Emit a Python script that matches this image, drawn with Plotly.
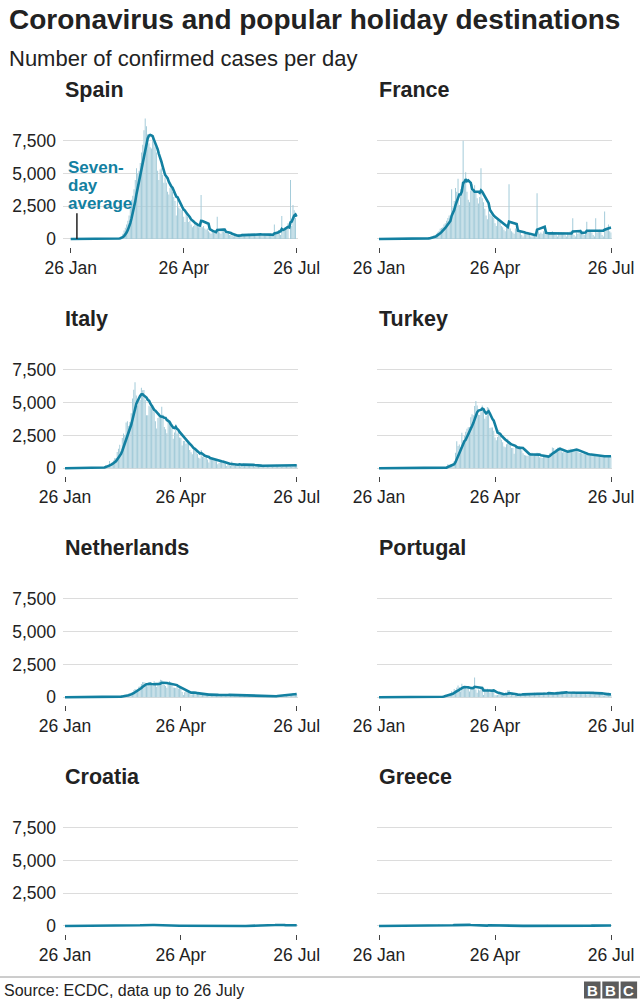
import pandas as pd
import plotly.graph_objects as go

# ---------------- data (daily confirmed cases, 26 Jan - 26 Jul 2020) ----------------
dates = pd.date_range("2020-01-26", "2020-07-26", freq="D")

countries = ["Spain", "France", "Italy", "Turkey", "Netherlands", "Portugal", "Croatia", "Greece"]

spain = [
    0, 0, 0, 0, 0,  0, 1, 0, 0, 0,  0, 0, 0, 0, 1,  0, 0, 0, 0, 0,  0, 0, 0, 0, 0,  0, 0, 0, 0, 0,  1, 4, 5, 10, 17,
    15, 40, 50, 60, 80, 150, 200, 400, 650, 850, 1100, 1400, 1800, 2300, 3000, 3300, 3800, 4500, 5400, 5000,
    5200, 5800, 6600, 7200, 8300, 9200, 8600, 8000, 7300, 7000, 6900,
    7900, 7400, 7000, 6600, 5200, 4500, 5300, 5400, 4900, 4300, 4700, 4300, 3600, 3400, 3900, 3900, 3600, 3200, 2900, 1800,
    3000, 2400, 2300, 2200, 2300, 1700, 1300, 1900, 1700, 1300,
    1400, 1100, 900, 1000, 1300, 1100, 1000, 900, 1000, 3350, 900, 1000, 800, 700, 800, 600, 500, 400, 600, 500,
    600, 500, 1700, 600, 500, 400, 600, 700, 500, 600, 400,
    400, 300, 350, 250, 200, 250, 300, 250, 200, 300, 350, 400, 300, 250, 300, 350, 400, 300, 350, 400,
    350, 300, 400, 350, 300, 400, 350, 300, 350, 400,
    350, 300, 400, 300, 250, 200, 450, 1100, 400, 500, 600, 700, 300, 1750, 600, 700, 900, 1000, 1200, 0,
    4500, 1000, 2600, 2200, 1600, 0,
]

france = [
    0, 0, 0, 0, 0,  0, 0, 1, 0, 0,  0, 0, 0, 5, 0,  0, 0, 0, 0, 0,  1, 0, 0, 0, 0,  0, 0, 0, 0, 0,  2, 4, 20, 19, 43,
    30, 30, 60, 50, 90, 140, 180, 200, 270, 290, 400, 500, 600, 780, 840, 900, 1100, 1200, 1400, 1600,
    1800, 1600, 3800, 2400, 2900, 3900, 3600, 4600, 2600, 3800, 4000,
    7500, 4300, 5100, 3600, 3000, 2800, 3700, 4200, 3800, 4100, 3600, 3100, 2700, 3200, 5400, 3100, 2800, 2300, 1800, 1500,
    2200, 1900, 1800, 1700, 1600, 1200, 1000, 1600, 1500, 1300,
    1000, 900, 700, 600, 900, 1000, 4170, 800, 600, 500, 400, 800, 700, 600, 700, 600, 300, 200, 500, 500,
    400, 500, 300, 200, 200, 300, 300, 200, 3500, 600, 400,
    500, 400, 600, 500, 400, 300, 300, 500, 400, 600, 400, 500, 300, 200, 500, 400, 500, 400, 500, 300,
    200, 500, 400, 600, 400, 1580, 300, 200, 500, 400,
    600, 700, 600, 500, 300, 400, 1320, 600, 700, 600, 500, 300, 200, 1580, 500, 600, 700, 600, 300, 200,
    2090, 800, 900, 1100, 600, 500,
]

italy = [
    0, 0, 0, 0, 0,  2, 0, 0, 0, 0,  0, 1, 0, 0, 0,  0, 0, 0, 0, 0,  0, 0, 0, 0, 0,  0, 17, 62, 74, 74,  93, 78, 250, 238, 240,
    566, 342, 466, 587, 769, 778, 1247, 1492, 1797, 977, 2313, 2651, 2547, 3497, 3590, 3233, 3526, 4207, 5322, 5986,
    6557, 5560, 4789, 5249, 5210, 6153, 5959, 5974, 5217, 4050, 4053,
    4782, 4668, 4585, 4805, 4316, 3599, 3039, 3836, 4204, 3951, 4694, 4092, 3153, 2972, 2667, 3786, 3493, 3491, 3047, 2256,
    2729, 3370, 2646, 3021, 2357, 2324, 1739, 2091, 2086, 1872,
    1965, 1900, 1389, 1221, 1075, 1444, 1401, 1327, 1083, 802, 744, 1402, 888, 992, 789, 875, 675, 451, 813, 665,
    642, 652, 669, 531, 300, 397, 584, 593, 516, 416, 355,
    178, 318, 321, 177, 518, 270, 197, 280, 283, 202, 379, 163, 346, 338, 301, 210, 329, 333, 251, 262,
    224, 218, 122, 190, 296, 259, 175, 174, 126, 142,
    187, 201, 223, 235, 192, 208, 138, 193, 229, 276, 188, 234, 169, 114, 163, 230, 233, 249, 219, 218,
    190, 129, 282, 306, 252, 275,
]

turkey = [
    0, 0, 0, 0, 0,  0, 0, 0, 0, 0,  0, 0, 0, 0, 0,  0, 0, 0, 0, 0,  0, 0, 0, 0, 0,  0, 0, 0, 0, 0,  0, 0, 0, 0, 0,
    0, 0, 0, 0, 0, 0, 0, 0, 0, 0, 1, 0, 4, 1, 12, 29, 51, 93, 168, 311,
    277, 289, 293, 343, 561, 1196, 2069, 1704, 1815, 1610, 2704,
    2148, 2456, 2786, 3013, 3135, 3148, 3892, 4117, 4056, 4747, 5138, 4789, 4093, 4062, 4281, 4801, 4353, 3783, 3977, 4674,
    4611, 3083, 3116, 3122, 2861, 2357, 2131, 2392, 2936, 2615,
    2188, 1983, 1670, 1614, 1832, 2253, 1977, 1848, 1546, 1542, 1114, 1704, 1641, 1635, 1708, 1610, 1368, 1158, 1022, 972,
    961, 952, 1186, 1141, 1186, 948, 987, 1035, 1182, 1141, 839,
    827, 786, 867, 988, 930, 878, 989, 1141, 1195, 1592, 1540, 1267, 1459, 1562, 1592, 1429, 1304, 1214, 1248, 1214,
    1212, 1293, 1458, 1492, 1463, 1458, 1396, 1374, 1356, 1293,
    1192, 1172, 1148, 1086, 1083, 1053, 1041, 1114, 1001, 1024, 1016, 1008, 1012, 990, 933, 926, 918, 912, 929, 918,
    913, 937, 917, 927, 940, 924,
]

netherlands = [
    0, 0, 0, 0, 0,  0, 0, 0, 0, 0,  0, 0, 0, 0, 0,  0, 0, 0, 0, 0,  0, 0, 0, 0, 0,  0, 0, 0, 0, 0,  0, 0, 1, 1, 5,
    5, 8, 6, 14, 44, 46, 60, 77, 56, 61, 121, 111, 190, 155, 176, 278, 292, 346, 409, 534,
    637, 573, 545, 811, 852, 1019, 1172, 1159, 1104, 884, 845,
    1019, 1083, 1026, 904, 1224, 952, 777, 969, 1213, 1335, 1316, 1174, 964, 868, 734, 1061, 1235, 1140, 1066, 750,
    729, 708, 887, 655, 814, 710, 400, 171, 386, 514,
    475, 445, 335, 199, 232, 445, 455, 319, 246, 218, 196, 162, 196, 232, 225, 243, 232, 149, 161, 228,
    186, 178, 226, 199, 144, 103, 168, 185, 212, 178, 145,
    168, 184, 202, 156, 155, 190, 155, 89, 110, 187, 184, 162, 196, 170, 141, 91, 114, 123, 125, 132,
    105, 66, 94, 84, 107, 112, 67, 52, 92, 62,
    51, 63, 89, 71, 65, 62, 69, 74, 119, 132, 137, 121, 109, 98, 149, 213, 185, 193, 172, 201,
    200, 255, 311, 326, 242, 222,
]

portugal = [
    0, 0, 0, 0, 0,  0, 0, 0, 0, 0,  0, 0, 0, 0, 0,  0, 0, 0, 0, 0,  0, 0, 0, 0, 0,  0, 0, 0, 0, 0,  0, 0, 0, 0, 0,
    0, 2, 2, 5, 4, 8, 8, 9, 9, 11, 18, 19, 34, 57, 76, 86, 117, 194, 143, 235,
    260, 320, 460, 302, 633, 549, 724, 902, 792, 446, 1035,
    808, 783, 852, 638, 754, 452, 712, 699, 815, 1516, 598, 349, 598, 514, 643, 750, 181, 663, 521, 657,
    516, 371, 603, 444, 595, 163, 163, 183, 305, 295,
    181, 330, 178, 242, 181, 533, 553, 138, 228, 226, 98, 234, 187, 264, 288, 173, 227, 175, 252, 219,
    257, 271, 288, 138, 165, 163, 350, 304, 350, 200, 195,
    294, 200, 366, 377, 331, 301, 346, 192, 295, 282, 288, 294, 421, 418, 300, 375, 440, 417, 408, 323,
    365, 259, 311, 367, 345, 451, 457, 255, 266, 313,
    328, 403, 374, 413, 328, 313, 229, 375, 402, 339, 418, 443, 232, 402, 319, 304, 256, 339, 252, 135,
    157, 230, 312, 286, 223, 181,
]

croatia = [
    0, 0, 0, 0, 0,  0, 0, 0, 0, 0,  0, 0, 0, 0, 0,  0, 0, 0, 0, 0,  0, 0, 0, 0, 0,  0, 0, 0, 0, 0,  1, 2, 0, 2, 2,
    0, 2, 2, 0, 1, 0, 1, 1, 0, 2, 3, 12, 5, 10, 10, 12, 13, 16, 24, 33,
    78, 48, 52, 72, 76, 62, 91, 71, 67, 77, 96,
    96, 79, 68, 62, 83, 76, 46, 60, 46, 52, 27, 60, 58, 21, 36, 44, 26, 37, 22, 24,
    27, 27, 20, 24, 20, 12, 16, 10, 30, 24,
    19, 15, 11, 16, 6, 7, 10, 4, 6, 6, 4, 8, 3, 3, 7, 2, 6, 0, 1, 5,
    0, 0, 0, 1, 2, 0, 1, 0, 1, 0, 1,
    0, 0, 1, 1, 0, 0, 1, 0, 0, 1, 0, 1, 1, 0, 2, 3, 4, 10, 15, 26,
    35, 30, 44, 38, 67, 75, 88, 96, 52, 30,
    31, 65, 75, 91, 56, 53, 82, 52, 96, 116, 140, 52, 67, 65, 45, 65, 43, 56, 98, 50,
    39, 44, 61, 63, 83, 60,
]

greece = [
    0, 0, 0, 0, 0,  0, 0, 0, 0, 0,  0, 0, 0, 0, 0,  0, 0, 0, 0, 0,  0, 0, 0, 0, 0,  0, 0, 0, 0, 0,  0, 1, 2, 1, 0,
    0, 0, 0, 2, 0, 22, 14, 32, 8, 6, 0, 32, 127, 38, 10, 97, 14, 25, 31, 46,
    84, 94, 71, 48, 78, 71, 56, 95, 71, 60, 99,
    103, 109, 61, 100, 46, 62, 41, 60, 44, 40, 20, 48, 25, 19, 33, 15, 40, 46, 29, 46,
    156, 11, 18, 10, 17, 17, 15, 14, 27, 17,
    20, 10, 10, 11, 18, 7, 7, 6, 16, 1, 0, 7, 7, 13, 7, 11, 18, 3, 0, 3,
    2, 8, 18, 18, 2, 5, 2, 4, 0, 0, 3,
    17, 1, 6, 57, 12, 97, 14, 3, 8, 7, 8, 9, 9, 8, 2, 12, 15, 17, 18, 7,
    6, 19, 10, 4, 26, 12, 15, 19, 13, 6,
    14, 18, 8, 16, 10, 26, 12, 25, 25, 42, 36, 20, 26, 18, 41, 19, 42, 21, 29, 31,
    31, 28, 23, 28, 51, 47,
]

series = [spain, france, italy, turkey, netherlands, portugal, croatia, greece]
lens = {n: len(s) for n, s in zip(countries, series)}
assert all(v == len(dates) for v in lens.values()), lens

x_tick_dates = ["2020-01-26", "2020-04-26", "2020-07-26"]
x_tick_labels = ["26 Jan", "26 Apr", "26 Jul"]
y_tick_values = [0, 2500, 5000, 7500]
y_tick_labels = ["0", "2,500", "5,000", "7,500"]

# ---------------- styling / layout ----------------
W, H = 640, 1000
FONT = "Liberation Sans, Arial, Helvetica, sans-serif"
BAR = "#a3cbd9"
LINE = "#1380A1"
GRID = "#dcdcdc"
TXT = "#222222"

row_zero_px = [239.0, 468.3, 697.3, 926.0]
px_per_case = 98.3 / 7500.0
Y_MIN, Y_MAX = -590, 9500

# column geometry: (domain left px, domain right px, first-date px, last-date px)
col_geom = [(63.0, 297.7, 65.0, 296.7), (377.0, 611.7, 379.0, 611.0)]
spain_geom = (63.0, 297.7, 70.7, 296.7)

fig = go.Figure()
layout_axes = {}
ndays = (dates[-1] - dates[0]).days

for i, (name, vals) in enumerate(zip(countries, series)):
    r, c = divmod(i, 2)
    k = "" if i == 0 else str(i + 1)
    g = spain_geom if name == "Spain" else col_geom[c]
    dl, dr, p0, p1 = g
    ppd = (p1 - p0) / ndays
    x_start = dates[0] - pd.Timedelta(days=(p0 - dl) / ppd)
    x_end = dates[-1] + pd.Timedelta(days=(dr - p1) / ppd)

    z = row_zero_px[r]
    bottom_px = z - Y_MIN * px_per_case
    top_px = z - Y_MAX * px_per_case

    avg = pd.Series(vals, dtype=float).rolling(7, min_periods=1).mean()

    fig.add_trace(go.Bar(x=dates, y=vals, marker=dict(color=BAR, line=dict(width=0)),
                         xaxis="x" + k, yaxis="y" + k, hoverinfo="skip"))
    fig.add_trace(go.Scatter(x=dates, y=avg, mode="lines",
                             line=dict(color=LINE, width=2.6, shape="linear"),
                             xaxis="x" + k, yaxis="y" + k, hoverinfo="skip"))

    layout_axes["xaxis" + k] = dict(
        domain=[dl / W, dr / W], anchor="y" + k, type="date", automargin=False,
        range=[x_start, x_end], tickvals=x_tick_dates, ticktext=x_tick_labels,
        ticks="outside", ticklen=5, tickwidth=1, tickcolor="#444444",
        showgrid=False, zeroline=False, showline=False,
        tickfont=dict(family=FONT, size=17.5, color=TXT), fixedrange=True,
    )
    layout_axes["yaxis" + k] = dict(
        domain=[1 - bottom_px / H, 1 - top_px / H], anchor="x" + k, automargin=False,
        range=[Y_MIN, Y_MAX], tickvals=y_tick_values, ticktext=y_tick_labels,
        showticklabels=(c == 0), ticks="", ticklabelstandoff=6,
        showgrid=True, gridcolor=GRID, gridwidth=1, zeroline=False, showline=False,
        tickfont=dict(family=FONT, size=17.5, color=TXT), fixedrange=True,
    )

annotations = []
annotations.append(dict(text="<b>Coronavirus and popular holiday destinations</b>", x=7 / W, y=1 - 19 / H,
                        xref="paper", yref="paper", xanchor="left", yanchor="middle", showarrow=False,
                        font=dict(family=FONT, size=28, color=TXT)))
annotations.append(dict(text="Number of confirmed cases per day", x=7 / W, y=1 - 58 / H,
                        xref="paper", yref="paper", xanchor="left", yanchor="middle", showarrow=False,
                        font=dict(family=FONT, size=22, color=TXT)))

title_y_px = [90, 319, 548, 777]
title_x_px = [63, 377]
for i, name in enumerate(countries):
    r, c = divmod(i, 2)
    annotations.append(dict(text="<b>%s</b>" % name, x=title_x_px[c] / W, y=1 - title_y_px[r] / H,
                            xref="paper", yref="paper", xanchor="left", yanchor="middle", showarrow=False,
                            font=dict(family=FONT, size=21.5, color=TXT)))

for txt, ypx in [("Seven-", 167), ("day", 186), ("average", 204)]:
    annotations.append(dict(text="<b>%s</b>" % txt, x=66 / W, y=1 - ypx / H,
                            xref="paper", yref="paper", xanchor="left", yanchor="middle", showarrow=False,
                            font=dict(family=FONT, size=17, color=LINE)))

annotations.append(dict(text="Source: ECDC, data up to 26 July", x=2 / W, y=1 - 990 / H,
                        xref="paper", yref="paper", xanchor="left", yanchor="middle", showarrow=False,
                        font=dict(family=FONT, size=16, color=TXT)))

shapes = []
shapes.append(dict(type="line", xref="x", yref="y", x0="2020-01-31", x1="2020-01-31", y0=0, y1=1960,
                   line=dict(color="#222222", width=1.5)))
shapes.append(dict(type="line", xref="paper", yref="paper", x0=0, x1=1, y0=1 - 977 / H, y1=1 - 977 / H,
                   line=dict(color="#9a9a9a", width=1)))
for j, letter in enumerate("BBC"):
    x0 = 584 + j * 18.3
    shapes.append(dict(type="rect", xref="paper", yref="paper", x0=x0 / W, x1=(x0 + 16.5) / W,
                       y0=1 - 998.5 / H, y1=1 - 981.5 / H, fillcolor="#5c5c5c", line=dict(width=0)))
    annotations.append(dict(text="<b>%s</b>" % letter, x=(x0 + 8.25) / W, y=1 - 990 / H,
                            xref="paper", yref="paper", xanchor="center", yanchor="middle", showarrow=False,
                            font=dict(family=FONT, size=15, color="white")))

fig.update_layout(
    width=W, height=H, margin=dict(l=0, r=0, t=0, b=0, pad=0, autoexpand=False),
    paper_bgcolor="white", plot_bgcolor="white",
    showlegend=False, bargap=0.22,
    annotations=annotations, shapes=shapes,
    font=dict(family=FONT, color=TXT),
    **layout_axes,
)

fig.write_html("out.html", config={"displayModeBar": False, "staticPlot": True},
               post_script="document.body.style.margin='0';document.body.style.padding='0';")
